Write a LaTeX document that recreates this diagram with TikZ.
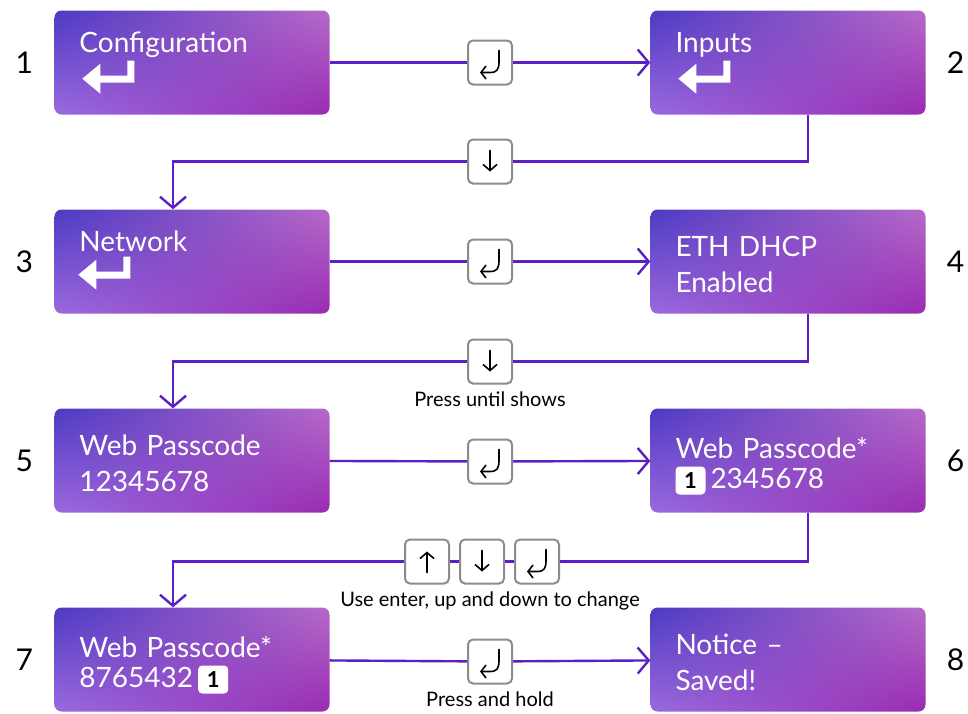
\documentclass[tikz,border=0pt]{standalone}
\usepackage{fontspec}
\setmainfont{Lato}
\usetikzlibrary{positioning,arrows.meta,shadings}

\definecolor{flowline}{HTML}{5B1FC6}
\definecolor{keyrim}{HTML}{8C8C8C}
\definecolor{boxUL}{HTML}{4C3AC3}
\definecolor{boxUR}{HTML}{B66AC8}
\definecolor{boxLL}{HTML}{9A6ADE}
\definecolor{boxLR}{HTML}{9A2BB2}

\newcommand{\boxfont}{\fontsize{28}{36}\selectfont}
\newcommand{\boxlead}{\rule{0pt}{27pt}}
\newlength{\codewidth}

\tikzset{
  entersym/.pic={
    \draw[line width=1.6pt, line cap=round, -{Straight Barb[length=5pt,width=13pt]}]
      (9,-12) -- (9,-1) .. controls (9,7) and (7,10) .. (0,10) -- (-10,10);
  },
  upsym/.pic={
    \draw[line width=1.6pt, line cap=round, -{Straight Barb[length=6pt,width=14pt]}] (0,11) -- (0,-10);
  },
  downsym/.pic={
    \draw[line width=1.6pt, line cap=round, -{Straight Barb[length=6pt,width=14pt]}] (0,-11) -- (0,10);
  },
  retglyph/.pic={
    \fill[white] (-26,1) -- (-8,-14) -- (-8,-2) -- (19,-2) -- (19,-17) -- (26,-17)
      -- (26,5) -- (-8,5) -- (-8,16) -- cycle;
  },
}

\begin{document}
\settowidth{\codewidth}{\boxfont 8765432}
\begin{tikzpicture}[x=1pt,y=-1pt]
    \tikzstyle{stepbox} = [rectangle, rounded corners=7pt, shade,
        upper left=boxUL, upper right=boxUR, lower left=boxLL, lower right=boxLR,
        minimum width=275pt, minimum height=104pt, text width=225pt,
        inner xsep=25pt, align=left, text=white, font=\boxfont]
    \tikzstyle{stepnum} = [inner sep=0pt, font=\fontsize{30}{30}\selectfont]
    \tikzstyle{keycap} = [draw=keyrim, line width=2pt, fill=white,
        rounded corners=5pt, minimum size=44pt, inner sep=0pt]
    \tikzstyle{flow} = [draw=flowline, line width=2.4pt,
        -{Straight Barb[length=11pt,width=26pt,line width=2.4pt]}]
    \tikzstyle{note} = [inner sep=0pt, font=\fontsize{20}{20}\selectfont]
    \tikzstyle{chip} = [fill=white, text=black, rounded corners=4pt,
        minimum width=30pt, minimum height=28pt, inner sep=0pt,
        font=\bfseries\fontsize{22}{22}\selectfont]

    \useasboundingbox (0,0) rectangle (968,713);

    \matrix[row sep=95pt, column sep=321pt] at (490,361) {
    \node[stepbox] (b1) {\boxlead Configuration\\\strut}; &
    \node[stepbox] (b2) {\boxlead Inputs\\\strut}; \\
    \node[stepbox] (b3) {\boxlead Network\\\strut}; &
    \node[stepbox] (b4) {\boxlead ETH DHCP\\Enabled}; \\
    \node[stepbox] (b5) {\boxlead Web Passcode\\12345678}; &
    \node[stepbox] (b6) {\boxlead Web Passcode*\\[-6pt]\hspace{35pt}2345678}; \\
    \node[stepbox] (b7) {\boxlead Web Passcode*\\[-6pt]8765432}; &
    \node[stepbox] (b8) {\boxlead Notice --\\Saved!}; \\
    };

    % return glyphs in the first boxes
    \pic at ([xshift=54pt,yshift=37pt]b1.south west) {retglyph};
    \pic at ([xshift=54pt,yshift=37pt]b2.south west) {retglyph};
    \pic at ([xshift=50pt,yshift=40pt]b3.south west) {retglyph};

    % edited digit
    \node[chip, anchor=west] (c6) at ([xshift=25pt,yshift=-20pt]b6.west) {1};
    \node[chip, anchor=west] (c7) at ([xshift=25pt+\codewidth+5pt,yshift=-20pt]b7.west) {1};

    % step numbers
    \node[stepnum, left=21pt of b1] (n1) {1};
    \node[stepnum, right=21pt of b2] (n2) {2};
    \node[stepnum, left=21pt of b3] (n3) {3};
    \node[stepnum, right=21pt of b4] (n4) {4};
    \node[stepnum, left=21pt of b5] (n5) {5};
    \node[stepnum, right=21pt of b6] (n6) {6};
    \node[stepnum, left=21pt of b7] (n7) {7};
    \node[stepnum, right=21pt of b8] (n8) {8};

    % keys
    \path (b1) -- node[keycap] (k1) {} (b2);
    \node[keycap, below=53pt of k1] (k2) {};
    \node[keycap, below=54pt of k2] (k3) {};
    \node[keycap, below=54pt of k3] (k4) {};
    \node[keycap, below=54pt of k4] (k5) {};
    \node[keycap, below=54pt of k5, xshift=-8pt] (k6b) {};
    \node[keycap, left=9pt of k6b] (k6a) {};
    \node[keycap, right=9pt of k6b] (k6c) {};
    \node[keycap, below=54pt of k6b, xshift=8pt] (k7) {};

    \pic at (k1) {entersym};
    \pic at (k2) {downsym};
    \pic at (k3) {entersym};
    \pic at (k4) {downsym};
    \pic at (k5) {entersym};
    \pic at (k6a) {upsym};
    \pic at (k6b) {downsym};
    \pic at (k6c) {entersym};
    \pic at (k7) {entersym};

    \node[note, below=7pt of k4] (t4) {Press until shows};
    \node[note, below=7pt of k6b, xshift=8pt] (t6) {Use enter, up and down to change};
    \node[note, below=7pt of k7] (t7) {Press and hold};

    % connectors
    \draw[flow] (b1) -- (k1) -- (b2);
    \draw[flow] ([xshift=20pt]b2.south) |- (k2) -| ([xshift=-19pt]b3.north);
    \draw[flow] (b3) -- (k3) -- (b4);
    \draw[flow] ([xshift=20pt]b4.south) |- (k4) -| ([xshift=-19pt]b5.north);
    \draw[flow] (b5) -- (k5) -- (b6);
    \draw[flow] ([xshift=20pt]b6.south) |- (k6c) -- (k6b) -- (k6a) -| ([xshift=-19pt]b7.north);
    \draw[flow] (b7) -- (k7) -- (b8);
\end{tikzpicture}
\end{document}
